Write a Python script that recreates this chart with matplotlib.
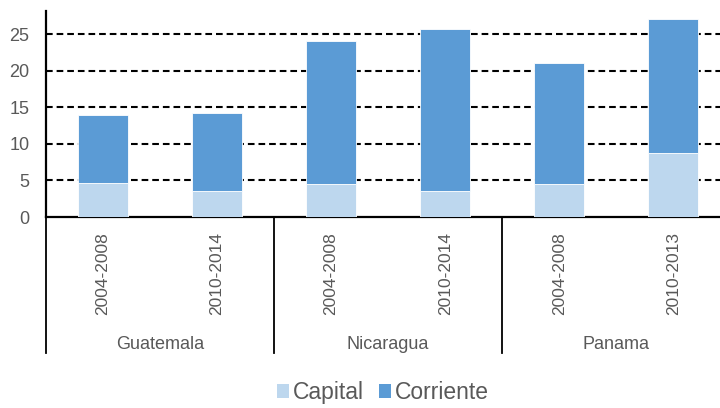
import matplotlib
matplotlib.use("Agg")
import matplotlib.pyplot as plt
from matplotlib import font_manager
from matplotlib.patches import Patch
import matplotlib.transforms as mtransforms

# Data
countries = ["Guatemala", "Nicaragua", "Panama"]
periods = ["2004-2008", "2010-2014", "2004-2008", "2010-2014", "2004-2008", "2010-2013"]
capital = [4.7, 3.6, 4.45, 3.6, 4.45, 8.8]
corriente = [9.3, 10.65, 19.65, 22.2, 16.65, 18.3]
yticks = [0, 5, 10, 15, 20, 25]

names = {f.name for f in font_manager.fontManager.ttflist}
family = [f for f in ["Liberation Sans", "DejaVu Sans"] if f in names]
plt.rcParams["font.family"] = family

grey = "#595959"
c_cap = "#BDD7EE"
c_cor = "#5B9BD5"

fig = plt.figure(figsize=(7.2, 4.08), dpi=100)
ax = fig.add_axes([46 / 720, (408 - 217) / 408, 674 / 720, 206 / 408])

x = list(range(len(periods)))
ax.bar(x, capital, width=0.44, color=c_cap, edgecolor="white", linewidth=0.6, zorder=3)
ax.bar(x, corriente, bottom=capital, width=0.44, color=c_cor, edgecolor="white",
       linewidth=0.6, zorder=3)

ax.set_xlim(-0.5, 5.41)
ax.set_ylim(0, 28.2)
ax.set_yticks(yticks)
ax.set_yticklabels([str(v) for v in yticks])
for v in yticks[1:]:
    ln, = ax.plot([-0.5, 5.41], [v, v], color="black", lw=1.5, zorder=1)
    ln.set_dashes((3.2, 1.9))

ax.tick_params(axis="y", length=0, pad=12, labelsize=13, labelcolor=grey)
ax.set_xticks(x)
ax.set_xticklabels(periods, rotation=90, va="top", ha="center")
ax.tick_params(axis="x", length=0, pad=11, labelsize=12.5, labelcolor=grey)

for s in ["top", "right"]:
    ax.spines[s].set_visible(False)
ax.spines["left"].set_linewidth(1.6)
ax.spines["bottom"].set_linewidth(1.6)

# Group separators and country names under the period labels
trans = mtransforms.blended_transform_factory(ax.transData, ax.transAxes)
for xs in [-0.5, 1.5, 3.5]:
    ax.plot([xs, xs], [0, -0.66], color="black", lw=1.3, transform=trans, clip_on=False)
for i, name in enumerate(countries):
    ax.text(2 * i + 0.5, -0.617, name, transform=trans, ha="center", va="center",
            fontsize=13, color=grey)

handles = [Patch(facecolor=c_cap, label="Capital"), Patch(facecolor=c_cor, label="Corriente")]
fig.legend(handles=handles, loc="center", bbox_to_anchor=(0.532, 0.038), ncol=2,
           frameon=False, fontsize=16.5, handlelength=0.52, handleheight=0.52,
           handletextpad=0.17, columnspacing=0.65, labelcolor=grey,
           borderpad=0, borderaxespad=0)

fig.savefig("out.png", dpi=100)
